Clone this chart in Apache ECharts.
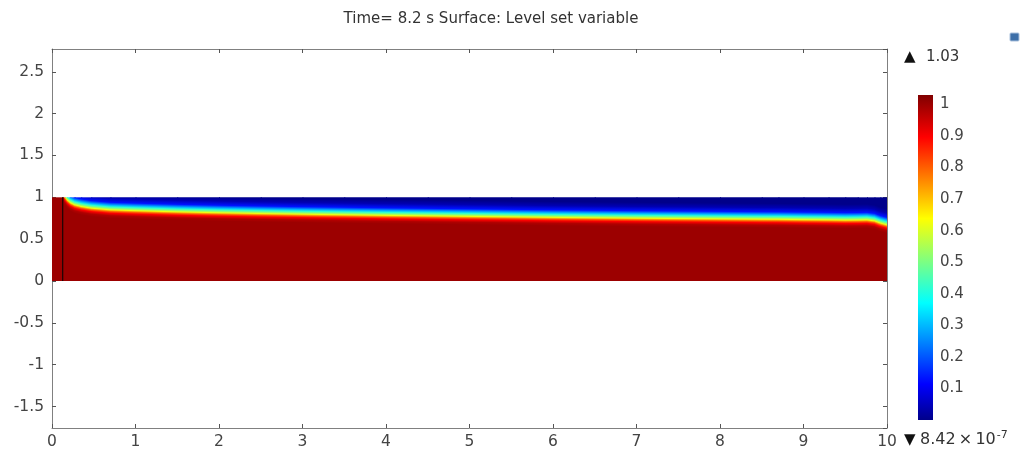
<!DOCTYPE html>
<html>
<head>
<meta charset="utf-8">
<script src="https://cdn.jsdelivr.net/npm/echarts@6/dist/echarts.min.js"></script>
<style>
html,body{margin:0;padding:0;background:#fff;}
#chart{width:1029px;height:450px;}
</style>
</head>
<body>
<div id="chart"></div>
<script>
// ---- Data ----
const titleText = 'Time= 8.2 s Surface: Level set variable';
// interface (0.5 level of the level-set variable) height along the channel
const profileX = [0, 0.128, 0.15, 0.18, 0.22, 0.27, 0.35, 0.47, 0.7, 1, 1.5, 2, 2.5, 3, 3.5, 4, 4.5, 5, 5.5, 6, 6.5, 7, 7.5, 8, 8.5, 8.7, 9, 9.3, 9.5, 9.65, 9.76, 9.85, 9.92, 10];
const profileH = [1.3, 1.3, 1.03, 0.99, 0.955, 0.93, 0.91, 0.89, 0.87, 0.86, 0.846, 0.835, 0.826, 0.818, 0.811, 0.804, 0.798, 0.792, 0.786, 0.78, 0.775, 0.77, 0.766, 0.762, 0.758, 0.757, 0.753, 0.75, 0.747, 0.748, 0.75, 0.738, 0.712, 0.69];
// level-set value across the interface (offset above interface -> value)
const bandOffset = [0.17, 0.12, 0.07, 0.035, 0.015, 0, -0.02, -0.04, -0.06, -0.09, -0.12];
const bandValue  = [0.0, 0.04, 0.13, 0.3, 0.42, 0.5, 0.62, 0.8, 0.9, 0.98, 1.0];
const domainYMin = 0, domainYMax = 1;
const wallX = 0.128;
const rangeMin = 8.42e-7, rangeMax = 1.03;
const colorbarTicks = [0.1, 0.2, 0.3, 0.4, 0.5, 0.6, 0.7, 0.8, 0.9, 1];

// ---- colormap (styling) ----
const cmT = [0, 0.11, 0.36, 0.62, 0.87, 1];
const cmC = ['#00008A', '#0000FF', '#00FFFF', '#FFFF00', '#FF0000', '#800000'];
function hex2rgb(h){return [parseInt(h.substr(1,2),16),parseInt(h.substr(3,2),16),parseInt(h.substr(5,2),16)];}
function colorAt(v){
  let t = (v - rangeMin) / (rangeMax - rangeMin);
  t = Math.max(0, Math.min(1, t));
  for (let i = 0; i < cmT.length - 1; i++) {
    if (t <= cmT[i+1]) {
      const f = (t - cmT[i]) / (cmT[i+1] - cmT[i]);
      const a = hex2rgb(cmC[i]), b = hex2rgb(cmC[i+1]);
      return 'rgb(' + a.map((c, k) => Math.round(c + (b[k] - c) * f)).join(',') + ')';
    }
  }
  return cmC[cmC.length-1];
}

const fieldData = [];
for (let i = 0; i < profileX.length - 1; i++) {
  fieldData.push([profileX[i], profileH[i], profileX[i+1], profileH[i+1]]);
}

const chart = echarts.init(document.getElementById('chart'), null, {renderer: 'canvas'});
const axisColor = '#808080';
const tickColor = '#555';
const labelColor = '#444';
const font = 'DejaVu Sans';

const bandStops = bandOffset.map((d, k) => ({
  offset: (bandOffset[0] - d) / (bandOffset[0] - bandOffset[bandOffset.length-1]),
  color: colorAt(bandValue[k])
}));

function renderField(params, api) {
  const x0 = api.value(0), h0 = api.value(1), x1 = api.value(2), h1 = api.value(3);
  const P0 = api.coord([x0, h0]), P1 = api.coord([x1, h1]);
  const sy = api.coord([x0, 0])[1] - api.coord([x0, 1])[1];
  let ux = P1[0] - P0[0], uy = P1[1] - P0[1];
  const len = Math.hypot(ux, uy) || 1;
  ux /= len; uy /= len;
  const nx = -uy, ny = ux;
  const sMin = -ux * bandOffset[0] * sy;
  const sMax = -ux * bandOffset[bandOffset.length-1] * sy;
  const g0 = [P0[0] + nx * sMin, P0[1] + ny * sMin];
  const g1 = [P0[0] + nx * sMax, P0[1] + ny * sMax];
  const tl = api.coord([x0, domainYMax]);
  const br = api.coord([x1, domainYMin]);
  const last = x1 >= profileX[profileX.length-1];
  return {
    type: 'rect',
    shape: {x: tl[0], y: tl[1], width: br[0] - tl[0] + (last ? 0 : 1), height: br[1] - tl[1]},
    style: {fill: new echarts.graphic.LinearGradient(g0[0], g0[1], g1[0], g1[1], bandStops, true)}
  };
}

function renderColorbar(params, api) {
  const pTop = api.coord([0, rangeMax]);
  const pBot = api.coord([1, rangeMin]);
  const stops = cmT.map((t, i) => ({offset: 1 - t, color: cmC[i]})).reverse();
  return {
    type: 'rect',
    shape: {x: pTop[0], y: pTop[1], width: pBot[0] - pTop[0], height: pBot[1] - pTop[1]},
    style: {fill: new echarts.graphic.LinearGradient(0, 0, 0, 1, stops)}
  };
}

const yCommon = {
  type: 'value', gridIndex: 0, min: -1.756, max: 2.772, splitNumber: 9,
  axisLine: {show: true, onZero: false, lineStyle: {color: axisColor, width: 1}},
  axisTick: {show: true, inside: true, length: 4, lineStyle: {color: tickColor}},
  splitLine: {show: false}
};

const option = {
  animation: false,
  backgroundColor: '#fff',
  grid: [
    {left: 52, right: 142, top: 49, bottom: 22},
    {left: 918, width: 15, top: 95, height: 325}
  ],
  xAxis: [
    {type: 'value', gridIndex: 0, min: 0, max: 10, interval: 1, position: 'bottom',
     axisLine: {show: true, onZero: false, lineStyle: {color: axisColor}},
     axisTick: {show: true, inside: true, length: 4, lineStyle: {color: tickColor}},
     axisLabel: {color: labelColor, fontFamily: font, fontSize: 15.5, margin: 6},
     splitLine: {show: false}},
    {type: 'value', gridIndex: 0, min: 0, max: 10, interval: 1, position: 'top',
     axisLine: {show: true, onZero: false, lineStyle: {color: axisColor}},
     axisTick: {show: true, inside: true, length: 4, lineStyle: {color: tickColor}},
     axisLabel: {show: false}, splitLine: {show: false}},
    {type: 'value', gridIndex: 1, min: 0, max: 1, show: false}
  ],
  yAxis: [
    Object.assign({}, yCommon, {position: 'left',
      axisLabel: {color: labelColor, fontFamily: font, fontSize: 15.5, margin: 8,
        showMinLabel: false, showMaxLabel: false,
        formatter: v => (Math.abs(v * 2 - Math.round(v * 2)) < 1e-6 ? String(v) : '')}}),
    Object.assign({}, yCommon, {position: 'right', axisLabel: {show: false}}),
    {type: 'value', gridIndex: 1, min: 0, max: rangeMax, interval: 0.1, position: 'right',
     axisLine: {show: false}, axisTick: {show: false}, splitLine: {show: false},
     axisLabel: {color: labelColor, fontFamily: font, fontSize: 15, margin: 7,
       showMaxLabel: false,
       formatter: v => (colorbarTicks.some(t => Math.abs(t - v) < 1e-6) ? String(Math.round(v * 10) / 10) : '')}}
  ],
  series: [
    {type: 'custom', xAxisIndex: 0, yAxisIndex: 0, renderItem: renderField,
     encode: {x: [0, 2], y: [1, 3]}, data: fieldData, clip: true, silent: true, z: 1},
    {type: 'line', xAxisIndex: 0, yAxisIndex: 0, data: [[wallX, domainYMin], [wallX, domainYMax]],
     symbol: 'none', lineStyle: {color: '#1a0505', width: 1.2}, silent: true, z: 3},
    {type: 'custom', xAxisIndex: 2, yAxisIndex: 2, renderItem: renderColorbar,
     data: [[0, rangeMin, 1, rangeMax]], encode: {x: [0, 2], y: [1, 3]}, silent: true}
  ],
  graphic: [
    {type: 'text', x: 491, y: 19, style: {text: titleText,
      font: '15px "DejaVu Sans"', fill: '#333', align: 'center', verticalAlign: 'middle'}},
    {type: 'text', x: 904, y: 57, style: {text: '▲',
      font: '15px "DejaVu Sans"', fill: '#111', align: 'left', verticalAlign: 'middle'}},
    {type: 'text', x: 926, y: 57, style: {text: rangeMax.toFixed(2),
      font: '15px "DejaVu Sans"', fill: '#333', align: 'left', verticalAlign: 'middle'}},
    {type: 'text', x: 904, y: 440, style: {text: '▼',
      font: '15px "DejaVu Sans"', fill: '#111', align: 'left', verticalAlign: 'middle'}},
    {type: 'text', x: 920, y: 440, style: {
      text: '8.42\u2009×\u200910{sup|-7}',
      rich: {sup: {fontSize: 11, verticalAlign: 'top', padding: [0, 0, 9, 1], fill: '#333', fontFamily: font}},
      font: '16px "DejaVu Sans"', fill: '#333', align: 'left', verticalAlign: 'middle'}},
    {type: 'rect', shape: {x: 1010, y: 33, width: 9, height: 8, r: 1},
     style: {fill: '#3d6fa8', stroke: '#a9c0dc', lineWidth: 1}}
  ]
};
chart.setOption(option);
</script>
</body>
</html>
